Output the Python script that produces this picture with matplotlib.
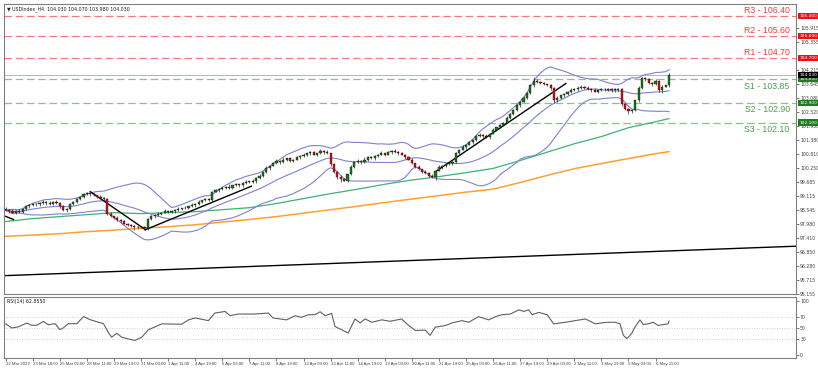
import numpy as np
import pandas as pd
import matplotlib.pyplot as plt
from matplotlib.transforms import blended_transform_factory

# H4 closes
closes = [
    98.55, 98.50, 98.45, 98.52, 98.48, 98.60, 98.70, 98.75, 98.80, 98.78,
    98.85, 98.90, 98.85, 98.80, 98.90, 98.85, 98.70, 98.55, 98.60, 98.80,
    98.90, 99.00, 99.10, 99.20, 99.25, 99.20, 99.15, 99.10, 99.05, 99.00,
    98.40, 98.30, 98.25, 98.15, 98.10, 98.00, 97.95, 97.90, 97.85, 97.88,
    97.85, 97.82, 98.20, 98.30, 98.35, 98.40, 98.45, 98.50, 98.48, 98.50,
    98.55, 98.60, 98.62, 98.65, 98.70, 98.75, 98.80, 98.90, 98.95, 99.00,
    98.95, 99.30, 99.35, 99.40, 99.45, 99.50, 99.45, 99.55, 99.60, 99.55,
    99.65, 99.70, 99.70, 99.75, 99.85, 99.95, 100.10, 100.25, 100.35, 100.45,
    100.55, 100.50, 100.60, 100.65, 100.55, 100.60, 100.70, 100.75, 100.80, 100.85,
    100.90, 100.80, 100.85, 100.95, 100.90, 100.85, 100.40, 100.10, 99.90, 99.80,
    99.75, 100.00, 100.30, 100.50, 100.55, 100.50, 100.60, 100.70, 100.65, 100.75,
    100.80, 100.85, 100.80, 100.90, 100.95, 100.90, 100.85, 100.80, 100.70, 100.60,
    100.45, 100.30, 100.20, 100.10, 100.05, 99.95, 99.90, 100.15, 100.30, 100.35,
    100.40, 100.45, 100.50, 100.85, 101.00, 101.10, 101.20, 101.30, 101.40, 101.55,
    101.60, 101.55, 101.50, 101.65, 101.80, 101.90, 102.00, 102.10, 102.30, 102.45,
    102.60, 102.80, 102.95, 103.10, 103.30, 103.60, 103.80, 103.75, 103.70, 103.65,
    103.60, 103.50, 103.00, 103.10, 103.20, 103.25, 103.35, 103.40, 103.45, 103.50,
    103.55, 103.50, 103.45, 103.40, 103.35, 103.40, 103.45, 103.45, 103.40, 103.45,
    103.40, 103.45, 102.85, 102.65, 102.55, 102.60, 103.00, 103.50, 103.90, 103.85,
    103.70, 103.65, 103.80, 103.40, 103.55, 103.60, 104.03,
]
first_open = 98.60
# wick lengths in units of 0.03
wick_hi = ("2131212121" "1213121212" "1212132121" "1312121212" "1212121312"
           "1212131212" "2121213121" "1212121312" "2131212121" "1212131212"
           "2121213121" "1312121212" "2121212121" "1212131212" "2131212121"
           "1212125212" "1212121312" "2121312121" "1212121312" "2121213")
wick_lo = ("1212121212" "2131212121" "1212121212" "2121212132" "1221212121"
           "2121212121" "1212121212" "2121312121" "1212121212" "2121212133"
           "1212121212" "2121212121" "1212121413" "2121212121" "1212121212"
           "2121212121" "1332121212" "1212121212" "2132321212" "1212312")

levels = {"R3": 106.40, "R2": 105.60, "R1": 104.70,
          "S1": 103.85, "S2": 102.90, "S3": 102.10}
last_price = 104.03

# moving averages sampled every 8 bars (green and orange)
ma_bars = [0, 8, 16, 24, 32, 40, 48, 56, 64, 72, 80, 88, 96, 104, 112, 120,
           128, 136, 144, 152, 160, 168, 176, 184, 192, 196]
ma_green = [98.09, 98.21, 98.29, 98.37, 98.45, 98.41, 98.45, 98.49, 98.57, 98.65,
            98.82, 99.02, 99.22, 99.40, 99.60, 99.77, 99.91, 100.07, 100.24, 100.56,
            100.90, 101.24, 101.53, 101.89, 102.13, 102.26]
ma_orange = [97.49, 97.54, 97.60, 97.68, 97.74, 97.82, 97.88, 97.96, 98.07, 98.17,
             98.29, 98.43, 98.57, 98.71, 98.86, 99.00, 99.14, 99.28, 99.40, 99.67,
             99.96, 100.23, 100.44, 100.64, 100.84, 100.92]

# RSI(14) (bar position, value)
rsi_bars = [0, 1.8, 3.7, 6.2, 7.7, 9.2, 11.1, 12.6, 14.6, 16, 17, 18.5, 21, 23,
            24.9, 27.4, 28.9, 30.3, 31.3, 32.8, 34.3, 36.7, 38.2, 40.2, 42.2,
            44.1, 46.1, 52, 54, 56, 59.9, 61.8, 64.8, 66.3, 68.7, 73.6, 77.6,
            79, 83, 85.5, 87.4, 89.4, 91.4, 92.9, 94.4, 96.3, 97.3, 99.3,
            101.2, 103.2, 104.7, 106.2, 108.2, 111.1, 113.6, 117.0, 118.5,
            121.0, 124.0, 125.4, 126.9, 129.9, 131.9, 134.8, 136.8, 139.7,
            142.7, 144.7, 146.6, 149.1, 151.6, 153.1, 154.5, 155.5, 157.5,
            160.0, 161.9, 165.4, 168.3, 171.3, 174.2, 176.1, 178.0, 180.0,
            181.5, 182.5, 183.5, 184.9, 185.9, 187.4, 188.4, 189.8, 191.3,
            192.8, 194.3, 195.7, 196]
rsi_vals = [57.6, 50, 52, 59, 55, 55, 62, 56, 58, 47, 50, 58, 58, 71,
            65.5, 60.6, 58, 42, 33, 40, 33, 29, 27, 33, 47,
            52, 57.6, 57, 65, 68.5, 63.6, 77.6, 80.6, 72.7, 75.8, 75.8, 77.6,
            68.5, 65, 72.7, 69.7, 74.5, 74.5, 80, 72.7, 77, 52.7, 46.7,
            40.6, 66.7, 59.4, 66.7, 60.6, 65, 62.4, 66.7, 57.6,
            45.5, 46, 36.4, 51.5, 54.5, 59.4, 63.6, 60.6, 71,
            65, 71, 74.5, 75.8, 83.6, 80.6, 83.6, 74.5, 78.8,
            74.5, 57.6, 60.6, 63.6, 66.7, 57.6, 59.4, 60.6, 60.6,
            57.6, 36.4, 30.3, 39.4, 51.5, 65, 56.4, 57.6, 60.6,
            54.5, 56.4, 57.6, 62.9]

# trend lines: (bar, price) pairs
trend_lines = [
    [(25.0, 99.30), (41.3, 97.76)],
    [(41.3, 97.76), (72.6, 99.52)],
    [(127.1, 100.12), (165.5, 103.68)],
    [(0.0, 98.30), (2.3, 98.17)],
    [(0.0, 95.90), (233.3, 97.09)],
]

price_ticks = [95.155, 95.715, 96.280, 96.850, 97.410, 97.980, 98.545, 99.115,
               99.685, 100.250, 100.810, 101.380, 101.950, 102.520, 103.080,
               103.645, 104.215, 105.355, 105.915]

date_labels = ["22 Mar 2022", "23 Mar 18:00", "25 Mar 02:00", "28 Mar 11:00",
               "29 Mar 19:00", "31 Mar 03:00", "1 Apr 11:00", "4 Apr 19:00",
               "6 Apr 03:00", "7 Apr 11:00", "8 Apr 19:00", "12 Apr 03:00",
               "13 Apr 11:00", "14 Apr 19:00", "19 Apr 03:00", "20 Apr 11:00",
               "21 Apr 19:00", "25 Apr 03:00", "26 Apr 11:00", "27 Apr 19:00",
               "29 Apr 03:00", "2 May 11:00", "3 May 19:00", "5 May 03:00",
               "6 May 11:00"]

n = len(closes)
x = np.arange(n)
c = np.array(closes)
o = np.concatenate([[first_open], c[:-1]])
h = np.maximum(o, c) + np.array([int(d) for d in wick_hi]) * 0.03
l = np.minimum(o, c) - np.array([int(d) for d in wick_lo]) * 0.03

s = pd.Series(c)
bb_mid = s.rolling(20, min_periods=1).mean()
bb_std = s.rolling(20, min_periods=1).std(ddof=0).fillna(0)
bb_up = bb_mid + 2 * bb_std
bb_dn = bb_mid - 2 * bb_std

fig = plt.figure(figsize=(8.18, 3.70), dpi=100)
ax = fig.add_axes([4 / 818, 1 - 294 / 370, 792 / 818, 290 / 370])
ax2 = fig.add_axes([4 / 818, 1 - 358 / 370, 792 / 818, 61 / 370])

xmax = 233.5
for a in (ax, ax2):
    a.set_xlim(-0.5, xmax)
    for sp in a.spines.values():
        sp.set_color("#808080")
        sp.set_linewidth(0.8)
ax.set_ylim(95.155, 106.9)

# level lines
trans = blended_transform_factory(ax.transAxes, ax.transData)
for name, val in levels.items():
    red = name.startswith("R")
    lc = "#f27a7a" if red else "#8cc08c"
    tc = "#f03a3a" if red else "#4e9a4e"
    ax.axhline(val, color=lc, lw=0.9, dashes=(6, 3), zorder=1)
    ax.text(0.992, val + (0.06 if red else -0.1), f"{name} - {val:.2f}",
            transform=trans, ha="right", va="bottom" if red else "top",
            fontsize=6.3, color=tc, family="Liberation Sans")
    ax.text(1.004, val, f"{val:.3f}", transform=trans, ha="left", va="center",
            fontsize=3.2, color="white", clip_on=False,
            bbox=dict(boxstyle="square,pad=0.25", fc="#ee1111" if red else "#1e7b1e",
                      ec="none"))
ax.axhline(last_price, color="#b8b8b8", lw=0.8, zorder=1)
ax.text(1.004, last_price, f"{last_price:.3f}", transform=trans, ha="left",
        va="center", fontsize=3.2, color="white", clip_on=False,
        bbox=dict(boxstyle="square,pad=0.25", fc="black", ec="none"))

# moving averages and bands
ax.plot(ma_bars, ma_green, color="#3cb371", lw=0.9, zorder=2)
ax.plot(ma_bars, ma_orange, color="#ffa033", lw=1.1, zorder=2)
for band in (bb_up, bb_mid, bb_dn):
    ax.plot(x, band, color="#8080d0", lw=0.8, zorder=2)

for seg in trend_lines:
    (x0, y0), (x1, y1) = seg
    ax.plot([x0, x1], [y0, y1], color="black", lw=1.0, zorder=3)

# candles
up = c >= o
ax.vlines(x, l, h, color="#303030", lw=0.5, zorder=4)
body = np.maximum(np.abs(c - o), 0.015)
ax.bar(x[up], body[up], bottom=o[up], width=0.62, color="#1e7b1e",
       edgecolor="black", linewidth=0.25, zorder=5)
ax.bar(x[~up], body[~up], bottom=c[~up], width=0.62, color="#dd1111",
       edgecolor="black", linewidth=0.25, zorder=5)

ax.yaxis.tick_right()
ax.set_yticks(price_ticks)
ax.set_yticklabels([f"{t:.3f}" for t in price_ticks])
ax.tick_params(axis="y", labelsize=3.3, length=2, width=0.5, pad=1,
               colors="#404040")
ax.set_xticks([])

ax.text(0.004, 0.992, "\u25bc USDIndex_H4  104.030 104.070 103.980 104.030",
        transform=ax.transAxes, fontsize=3.4, va="top", ha="left",
        color="#202020")

# RSI panel
ax2.set_ylim(-5.5, 107.3)
for lv in (30, 50, 70):
    ax2.axhline(lv, color="#c0c0c0", lw=0.6, ls=(0, (1, 2)))
ax2.plot(rsi_bars, rsi_vals, color="#606060", lw=0.8)
ax2.yaxis.tick_right()
ax2.set_yticks([0, 30, 50, 70, 100])
ax2.tick_params(axis="y", labelsize=3.3, length=2, width=0.5, pad=1,
                colors="#404040")
ax2.text(0.004, 0.97, "RSI(14) 62.8550", transform=ax2.transAxes,
         fontsize=3.4, va="top", ha="left", color="#202020")
ax2.set_xticks(np.arange(len(date_labels)) * 8)
ax2.set_xticklabels(date_labels, ha="left", family="Liberation Sans")
ax2.tick_params(axis="x", labelsize=3.1, length=2, width=0.5, pad=1,
                colors="#404040")

fig.savefig("out.png", dpi=100)
